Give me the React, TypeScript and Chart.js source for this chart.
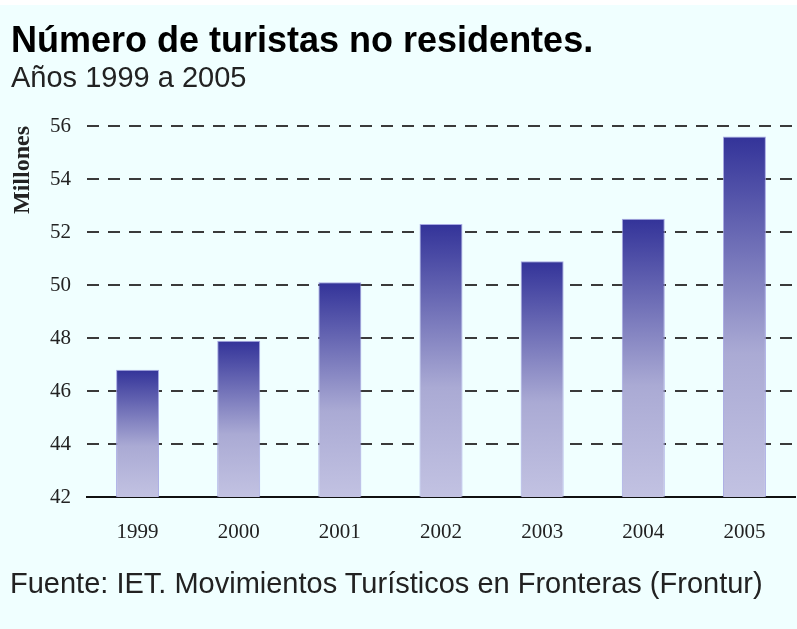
import React, { useEffect, useRef } from "react";
import { Chart, registerables } from "chart.js";

Chart.register(...registerables);

const years = ["1999", "2000", "2001", "2002", "2003", "2004", "2005"];
const tourists = [46.8, 47.9, 50.1, 52.3, 50.9, 52.5, 55.6];
const yMin = 42;
const yMax = 56;
const yStep = 2;

const titleText = "Número de turistas no residentes.";
const subtitleText = "Años 1999 a 2005";
const sourceText = "Fuente: IET. Movimientos Turísticos en Fronteras (Frontur)";
const axisTitle = "Millones";

const SERIF = "'Liberation Serif', 'Times New Roman', serif";
const SANS = "'Liberation Sans', Arial, sans-serif";

export default function App() {
  const canvasRef = useRef<HTMLCanvasElement | null>(null);

  useEffect(() => {
    const canvas = canvasRef.current;
    if (!canvas) return;
    const chart = new Chart(canvas, {
      type: "bar",
      data: {
        labels: years,
        datasets: [
          {
            data: tourists,
            backgroundColor: (ctx: any) => {
              const ch = ctx.chart;
              const area = ch.chartArea;
              const ys = ch.scales?.y;
              if (!area || !ys || typeof ctx.raw !== "number") return "#333399";
              const top = ys.getPixelForValue(ctx.raw);
              const bottom = ys.getPixelForValue(yMin);
              const g = ch.ctx.createLinearGradient(0, top, 0, bottom);
              g.addColorStop(0, "#333399");
              g.addColorStop(0.6, "#aaaad4");
              g.addColorStop(1, "#c2c2e2");
              return g;
            },
            borderColor: "rgba(160,160,225,0.9)",
            borderWidth: 1,
            categoryPercentage: 1,
            barPercentage: 0.425,
          },
        ],
      },
      options: {
        responsive: false,
        animation: false,
        layout: { padding: { left: 0, top: 126, right: 2, bottom: 82 } },
        plugins: {
          legend: { display: false },
          tooltip: { enabled: false },
          title: { display: false },
        },
        scales: {
          x: {
            grid: { display: false, drawTicks: false },
            border: { display: true, color: "#111", width: 2 },
            ticks: {
              color: "#222",
              padding: 23,
              font: { family: SERIF, size: 21 },
            },
            afterFit: (s: any) => {
              s.height = 50;
            },
          },
          y: {
            min: yMin,
            max: yMax,
            grid: { color: "#3a3a3a", lineWidth: 2, drawTicks: false },
            border: { display: false, dash: [12, 9] },
            ticks: {
              stepSize: yStep,
              color: "#222",
              padding: 16,
              font: { family: SERIF, size: 21 },
            },
            title: {
              display: true,
              text: axisTitle,
              align: "end",
              color: "#222",
              font: { family: SERIF, size: 24, weight: "bold" },
              padding: { top: 8, bottom: 0 },
            },
            afterFit: (s: any) => {
              s.width = 87;
            },
          },
        },
      },
    });
    return () => chart.destroy();
  }, []);

  return (
    <div
      style={{
        position: "absolute",
        left: 0,
        top: 0,
        width: 797,
        height: 629,
        background: "#f0ffff",
        overflow: "hidden",
      }}
    >
      <div style={{ position: "absolute", left: 0, top: 0, width: 797, height: 5, background: "#ffffff" }} />
      <canvas
        ref={canvasRef}
        width={797}
        height={629}
        style={{ position: "absolute", left: 0, top: 0, width: 797, height: 629 }}
      />
      <div
        style={{
          position: "absolute",
          left: 11,
          top: 22,
          fontFamily: SANS,
          fontWeight: "bold",
          fontSize: 36,
          lineHeight: "36px",
          color: "#000",
          whiteSpace: "nowrap",
        }}
      >
        {titleText}
      </div>
      <div
        style={{
          position: "absolute",
          left: 11,
          top: 63,
          fontFamily: SANS,
          fontSize: 29,
          lineHeight: "29px",
          color: "#222",
          whiteSpace: "nowrap",
        }}
      >
        {subtitleText}
      </div>
      <div
        style={{
          position: "absolute",
          left: 10,
          top: 569,
          fontFamily: SANS,
          fontSize: 29,
          lineHeight: "29px",
          color: "#222",
          whiteSpace: "nowrap",
        }}
      >
        {sourceText}
      </div>
    </div>
  );
}
